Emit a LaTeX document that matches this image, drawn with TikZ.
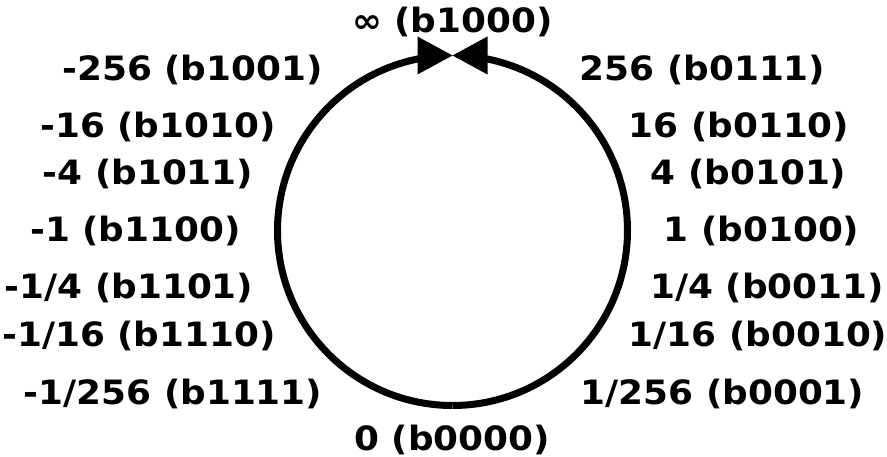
\documentclass[tikz,border=0pt]{standalone}
\usepackage{fontspec}
\newfontfamily\lblfont{DejaVu Sans}[FakeStretch=1.07]
\begin{document}
\begin{tikzpicture}[x=1pt,y=-1pt,
  lbl/.style={font=\lblfont\bfseries\fontsize{33.5}{40}\selectfont, anchor=base, inner sep=0pt},
  ring/.style={line width=7pt},
  tiphead/.style={fill=black}]
\useasboundingbox (0,0) rectangle (887,457);
\coordinate (bot) at (452.5,405.5);
\coordinate (top) at (452.5,55.5);
\draw[ring] (bot) arc[start angle=90,end angle=261,radius=175];
\draw[ring] (bot) arc[start angle=90,end angle=-81,radius=175];
\fill[tiphead] (top) -- ++(-35,-19) -- ++(0,38) -- cycle;
\fill[tiphead] (top) -- ++(35,-19) -- ++(0,38) -- cycle;
\node[lbl] (inf)  at (452.5,33) {∞ (b1000)};
\node[lbl] (m256) at (192.5,81) {-256 (b1001)};
\node[lbl] (p256) at (702.5,81) {256 (b0111)};
\node[lbl] (m16)  at (158,138) {-16 (b1010)};
\node[lbl] (p16)  at (739,138) {16 (b0110)};
\node[lbl] (m4)   at (148,185) {-4 (b1011)};
\node[lbl] (p4)   at (748.5,185) {4 (b0101)};
\node[lbl] (m1)   at (135.5,241.5) {-1 (b1100)};
\node[lbl] (p1)   at (761.5,241.5) {1 (b0100)};
\node[lbl] (mq)   at (129,299) {-1/4 (b1101)};
\node[lbl] (pq)   at (767,299) {1/4 (b0011)};
\node[lbl] (ms)   at (139,346.5) {-1/16 (b1110)};
\node[lbl] (ps)   at (758,346.5) {1/16 (b0010)};
\node[lbl] (mt)   at (173,404.5) {-1/256 (b1111)};
\node[lbl] (pt)   at (722.5,404.5) {1/256 (b0001)};
\node[lbl] (zero) at (452,450.5) {0 (b0000)};
\end{tikzpicture}
\end{document}
